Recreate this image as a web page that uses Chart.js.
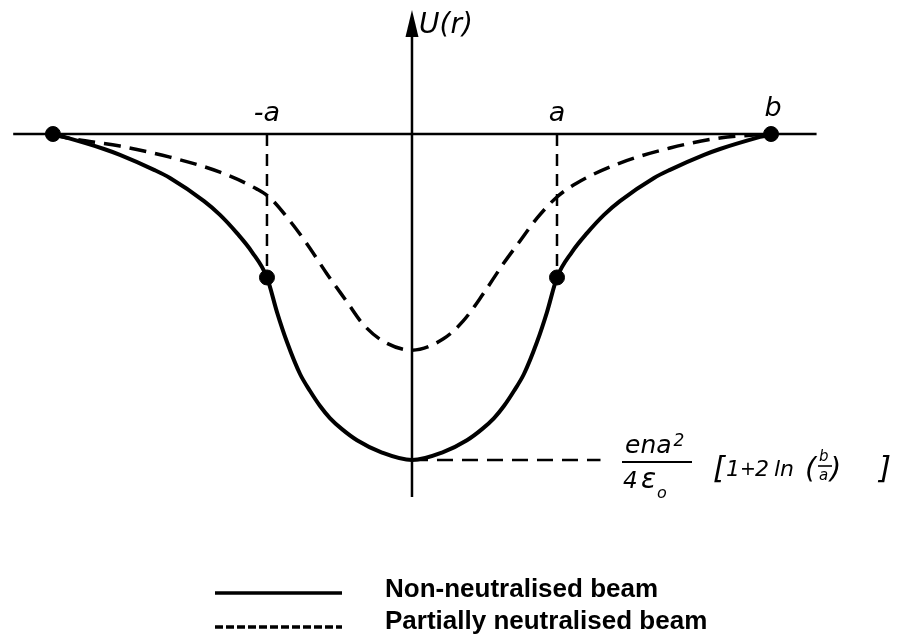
<!DOCTYPE html>
<html>
<head>
<meta charset="utf-8">
<script src="https://cdn.jsdelivr.net/npm/chart.js@4"></script>
<style>
  body { margin: 0; background: #fff; }
  #wrap { width: 912px; height: 643px; }
</style>
</head>
<body>
<div id="wrap"><canvas id="potential" width="912" height="643"></canvas></div>
<script>
// r in units of the beam radius a, U in units of |U(0)| of the bare beam
const beamA = 1;
const pipeB = 2.476;

const solidR = [-2.476, -2.4, -2.124, -2.014, -1.779, -1.669, -1.434, -1.324, -1.207, -1.103, -1.0,
  -0.931, -0.862, -0.772, -0.703, -0.634, -0.566, -0.483, -0.379, -0.207, 0,
  0.207, 0.379, 0.483, 0.566, 0.634, 0.703, 0.772, 0.862, 0.931, 1.0,
  1.103, 1.207, 1.324, 1.434, 1.669, 1.779, 2.014, 2.124, 2.4, 2.476];
const solidU = [0, -0.009, -0.046, -0.064, -0.11, -0.135, -0.206, -0.248, -0.304, -0.362, -0.44,
  -0.546, -0.638, -0.736, -0.788, -0.834, -0.871, -0.905, -0.939, -0.977, -1,
  -0.977, -0.939, -0.905, -0.871, -0.834, -0.788, -0.736, -0.638, -0.546, -0.44,
  -0.362, -0.304, -0.248, -0.206, -0.135, -0.11, -0.064, -0.046, -0.009, 0];

const dashR = [-2.476, -2.407, -2.014, -1.669, -1.324, -1.069, -0.979, -0.841, -0.724, -0.586, -0.448, -0.338, -0.2, 0,
  0.214, 0.352, 0.49, 0.628, 0.745, 0.862, 1.0, 1.138, 1.434, 1.779, 2.124, 2.476];
const dashU = [0, -0.009, -0.037, -0.071, -0.117, -0.169, -0.196, -0.267, -0.337, -0.429, -0.515, -0.583, -0.635, -0.663,
  -0.629, -0.574, -0.491, -0.399, -0.328, -0.258, -0.193, -0.15, -0.089, -0.043, -0.012, 0];

const markerR = [-pipeB, -beamA, beamA, pipeB];
const markerU = [0, -0.44, -0.44, 0];

const legendLabels = ["Non-neutralised beam", "Partially neutralised beam"];
const edgeLabels = ["-a", "a", "b"];
const edgeR = [-beamA, beamA, pipeB];

function pts(xs, ys) {
  return xs.map((x, i) => ({ x: x, y: ys[i] }));
}

const uMin = solidU[solidR.indexOf(0)];

function guide(xs, ys, dash) {
  return {
    data: pts(xs, ys),
    showLine: true,
    borderColor: "#000",
    borderWidth: 2.5,
    borderDash: dash,
    pointRadius: 0,
  };
}

const data = {
  datasets: [
    {
      label: legendLabels[0],
      data: pts(solidR, solidU),
      showLine: true,
      borderColor: "#000",
      borderWidth: 4,
      pointRadius: 0,
      cubicInterpolationMode: "monotone",
    },
    {
      label: legendLabels[1],
      data: pts(dashR, dashU),
      showLine: true,
      borderColor: "#000",
      borderWidth: 3.5,
      borderDash: [17, 9],
      pointRadius: 0,
      cubicInterpolationMode: "monotone",
    },
    // guide lines at r = -a, r = a and at the potential minimum
    guide([-beamA, -beamA], [0, markerU[1]], [12, 8]),
    guide([beamA, beamA], [0, markerU[2]], [12, 8]),
    guide([0, 1.3], [uMin, uMin], [16, 9]),
    {
      data: pts(markerR, markerU),
      showLine: false,
      pointRadius: 7.5,
      pointBackgroundColor: "#000",
      pointBorderColor: "#000",
    },
  ],
};

// axes with an arrow on U
const axesPlugin = {
  id: "axes",
  beforeDatasetsDraw(chart) {
    const c = chart.ctx;
    const x = chart.scales.x, y = chart.scales.y;
    const x0 = x.getPixelForValue(0), y0 = y.getPixelForValue(0);
    c.save();
    c.strokeStyle = "#000";
    c.fillStyle = "#000";
    c.lineWidth = 2.5;
    c.beginPath();
    c.moveTo(x.getPixelForValue(-2.75), y0);
    c.lineTo(x.getPixelForValue(2.79), y0);
    c.stroke();
    const tip = y.getPixelForValue(0.38);
    c.beginPath();
    c.moveTo(x0, y.getPixelForValue(-1.113));
    c.lineTo(x0, tip + 20);
    c.stroke();
    c.beginPath();
    c.moveTo(x0, tip);
    c.lineTo(x0 - 6.5, tip + 27);
    c.lineTo(x0 + 6.5, tip + 27);
    c.closePath();
    c.fill();
    c.restore();
  },
};

const textPlugin = {
  id: "labels",
  afterDraw(chart) {
    const c = chart.ctx;
    const x = chart.scales.x, y = chart.scales.y;
    const x0 = x.getPixelForValue(0), y0 = y.getPixelForValue(0);
    c.save();
    c.fillStyle = "#000";
    c.strokeStyle = "#000";
    const it = (s) => "italic " + s + 'px "DejaVu Sans"';

    c.font = it(28);
    c.textAlign = "left";
    c.fillText("U(r)", x0 + 7, 33);

    c.font = it(27);
    c.textAlign = "center";
    edgeLabels.forEach((t, i) => {
      const px = x.getPixelForValue(edgeR[i]);
      c.fillText(t, t == "b" ? px + 2 : px, y0 - (t == "b" ? 18 : 13));
    });

    // U(0) = e n a^2 / 4 eps0 [1 + 2 ln(b/a)]
    c.textAlign = "left";
    c.font = it(25);
    c.fillText("ena", 625, 453);
    const w = c.measureText("ena").width;
    c.font = it(17);
    c.fillText("2", 625 + w + 2, 446);
    c.lineWidth = 2.2;
    c.beginPath();
    c.moveTo(622, 462);
    c.lineTo(692, 462);
    c.stroke();
    c.font = it(23);
    c.fillText("4", 623, 488);
    c.font = it(28);
    c.fillText("\u03b5", 641, 488);
    c.font = it(16);
    c.fillText("o", 657, 498);

    c.font = it(31);
    c.fillText("[", 713, 478);
    c.font = it(22);
    c.fillText("1", 726, 476);
    c.font = it(19);
    c.fillText("+", 740, 475);
    c.font = it(22);
    c.fillText("2", 755, 476);
    c.fillText("ln", 774, 476);
    c.font = it(29);
    c.fillText("(", 805, 478);
    c.font = it(15);
    c.fillText("b", 819, 461);
    c.fillText("a", 819, 480);
    c.lineWidth = 1.6;
    c.beginPath();
    c.moveTo(818, 466);
    c.lineTo(832, 466);
    c.stroke();
    c.font = it(29);
    c.fillText(")", 830, 478);
    c.font = it(31);
    c.fillText("]", 879, 478);

    // legend
    const rows = [
      { ds: chart.data.datasets[0], y: 593, dash: [], base: 597 },
      { ds: chart.data.datasets[1], y: 627, dash: [8, 3], base: 629 },
    ];
    c.font = 'bold 26px "Liberation Sans"';
    rows.forEach((r) => {
      c.lineWidth = 3.5;
      c.setLineDash(r.dash);
      c.beginPath();
      c.moveTo(215, r.y);
      c.lineTo(342, r.y);
      c.stroke();
      c.setLineDash([]);
      c.fillText(r.ds.label, 385, r.base);
    });
    c.restore();
  },
};

new Chart(document.getElementById("potential"), {
  type: "scatter",
  data: data,
  options: {
    responsive: false,
    animation: false,
    layout: { padding: 0, autoPadding: false },
    plugins: { legend: { display: false }, tooltip: { enabled: false } },
    scales: {
      x: { type: "linear", min: -2.841, max: 3.448, display: false },
      y: { type: "linear", min: -1.561, max: 0.411, display: false },
    },
  },
  plugins: [axesPlugin, textPlugin],
});
</script>
</body>
</html>
